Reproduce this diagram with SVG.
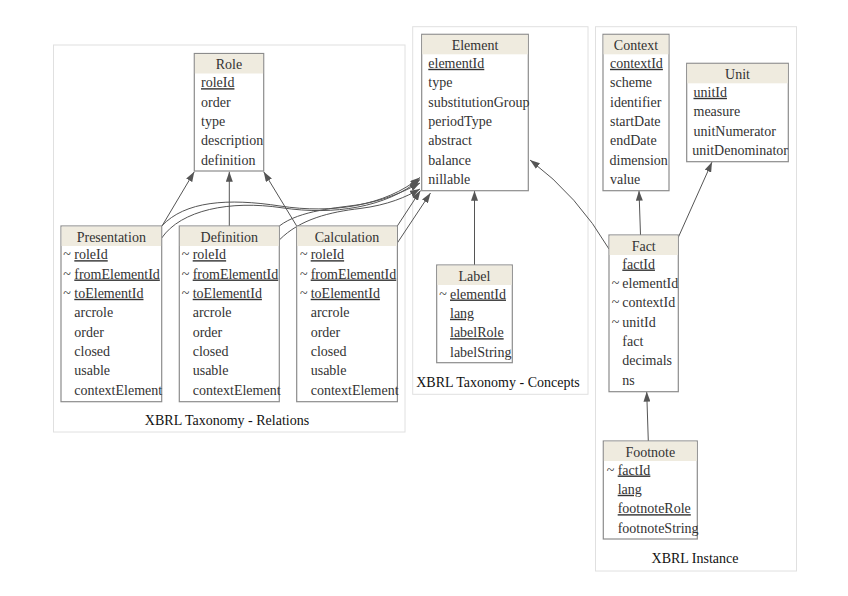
<svg xmlns="http://www.w3.org/2000/svg" width="848" height="596" viewBox="0 0 848 596">
<style>
text{font-family:"Liberation Serif","Times New Roman",serif;font-size:14px;fill:#333}
.cl{fill:#fff;stroke:#e0e0e0;stroke-width:1}
.ct{fill:#111;text-anchor:middle}
.box{fill:#fff;stroke:#8c8c8c;stroke-width:1.2}
.sh{fill:#d6d6d6}
.hd{fill:#efebdf}
.ht{text-anchor:middle}
.u{text-decoration:underline}
.e{fill:none;stroke:#555;stroke-width:1;marker-end:url(#ah)}
</style>
<defs>
<marker id="ah" markerWidth="10" markerHeight="7" refX="10" refY="3.5" orient="auto" markerUnits="userSpaceOnUse">
<path d="M0,0 L10,3.5 L0,7 z" fill="#555"/>
</marker>
</defs>
<rect width="848" height="596" fill="#fff"/>
<g id="cluster_relations">
<rect class="cl" x="53.5" y="45" width="351.5" height="387"/>
<text class="ct" x="227" y="424.5">XBRL Taxonomy - Relations</text>
</g>
<g id="cluster_concepts">
<rect class="cl" x="412.7" y="26.7" width="175.3" height="367.6"/>
<text class="ct" x="498" y="387">XBRL Taxonomy - Concepts</text>
</g>
<g id="cluster_instance">
<rect class="cl" x="595.5" y="26.7" width="201" height="544.3"/>
<text class="ct" x="695" y="562.5">XBRL Instance</text>
</g>

<g id="connectors">
<path class="e" d="M162,226 L194.3,171.7"/>
<path class="e" d="M229.3,226 L229.3,171.7"/>
<path class="e" d="M296.7,226 L263.7,171.7"/>
<path class="e" d="M161.7,226 C185,201 228,198 280,206 C332,214 385,206 420,177.5"/>
<path class="e" d="M161.7,238 C181,210 230,200 282,207.8 C334,215.5 386,207.5 420,179.5"/>
<path class="e" d="M279.3,226 C300,210 338,208 360,204.5 C386,200 405,191 420,183"/>
<path class="e" d="M279.3,240 C300,219 330,212 360,208.5 C388,205 406,197 420,189"/>
<path class="e" d="M397.3,226 L420.5,190.5"/>
<path class="e" d="M397.3,243 L430.5,193"/>
<path class="e" d="M474.5,265 L474.5,190.7"/>
<path class="e" d="M609,249 Q578,196 530,160"/>
<path class="e" d="M640.5,235 L639,190.7"/>
<path class="e" d="M678,238 L712,162"/>
<path class="e" d="M648.3,441 L646.7,391.7"/>
</g>

<g id="Role">
<rect class="box" x="194.3" y="53.5" width="69.4" height="117.5"/>
<rect class="hd" x="194.9" y="54.1" width="68.2" height="19.4"/>
<text class="ht" x="229" y="69">Role</text>
<text class="u" x="201" y="87.2">roleId</text>
<text x="201" y="106.5">order</text>
<text x="201" y="125.9">type</text>
<text x="201" y="145.2">description</text>
<text x="201" y="164.5">definition</text>
</g>

<g id="Presentation">
<rect class="box" x="61" y="226" width="100.7" height="175.7"/>
<rect class="hd" x="61.6" y="226.6" width="99.5" height="19.4"/>
<text class="ht" x="111.3" y="241.5">Presentation</text>
<text x="63.3" y="259.2">~</text><text class="u" x="74.3" y="259.2">roleId</text>
<text x="63.3" y="278.5">~</text><text class="u" x="74.3" y="278.5">fromElementId</text>
<text x="63.3" y="297.8">~</text><text class="u" x="74.3" y="297.8">toElementId</text>
<text x="74.3" y="317.2">arcrole</text>
<text x="74.3" y="336.5">order</text>
<text x="74.3" y="355.8">closed</text>
<text x="74.3" y="375.2">usable</text>
<text x="74.3" y="394.5">contextElement</text>
</g>

<g id="Definition">
<rect class="box" x="179.3" y="226" width="100" height="175.7"/>
<rect class="hd" x="179.9" y="226.6" width="98.8" height="19.4"/>
<text class="ht" x="229.3" y="241.5">Definition</text>
<text x="181.7" y="259.2">~</text><text class="u" x="192.7" y="259.2">roleId</text>
<text x="181.7" y="278.5">~</text><text class="u" x="192.7" y="278.5">fromElementId</text>
<text x="181.7" y="297.8">~</text><text class="u" x="192.7" y="297.8">toElementId</text>
<text x="192.7" y="317.2">arcrole</text>
<text x="192.7" y="336.5">order</text>
<text x="192.7" y="355.8">closed</text>
<text x="192.7" y="375.2">usable</text>
<text x="192.7" y="394.5">contextElement</text>
</g>

<g id="Calculation">
<rect class="box" x="296.7" y="226" width="100.7" height="175.7"/>
<rect class="hd" x="297.3" y="226.6" width="99.5" height="19.4"/>
<text class="ht" x="347" y="241.5">Calculation</text>
<text x="300" y="259.2">~</text><text class="u" x="310.7" y="259.2">roleId</text>
<text x="300" y="278.5">~</text><text class="u" x="310.7" y="278.5">fromElementId</text>
<text x="300" y="297.8">~</text><text class="u" x="310.7" y="297.8">toElementId</text>
<text x="310.7" y="317.2">arcrole</text>
<text x="310.7" y="336.5">order</text>
<text x="310.7" y="355.8">closed</text>
<text x="310.7" y="375.2">usable</text>
<text x="310.7" y="394.5">contextElement</text>
</g>

<g id="Element">
<rect class="box" x="421.7" y="34.3" width="106.6" height="156.4"/>
<rect class="hd" x="422.3" y="34.9" width="105.4" height="19.4"/>
<text class="ht" x="475" y="49.8">Element</text>
<text class="u" x="428.3" y="67.8">elementId</text>
<text x="428.3" y="87.1">type</text>
<text x="428.3" y="106.5">substitutionGroup</text>
<text x="428.3" y="125.8">periodType</text>
<text x="428.3" y="145.1">abstract</text>
<text x="428.3" y="164.5">balance</text>
<text x="428.3" y="183.8">nillable</text>
</g>

<g id="Label">
<rect class="box" x="436.7" y="265" width="75.6" height="97.7"/>
<rect class="hd" x="437.3" y="265.6" width="74.4" height="19.4"/>
<text class="ht" x="474.5" y="280.5">Label</text>
<text x="439.3" y="298.5">~</text><text class="u" x="450" y="298.5">elementId</text>
<text class="u" x="450" y="317.8">lang</text>
<text class="u" x="450" y="337.2">labelRole</text>
<text x="450" y="356.5">labelString</text>
</g>

<g id="Context">
<rect class="box" x="603" y="34.3" width="66" height="156.4"/>
<rect class="hd" x="603.6" y="34.9" width="64.8" height="19.4"/>
<text class="ht" x="636" y="49.8">Context</text>
<text class="u" x="610" y="67.8">contextId</text>
<text x="610" y="87.1">scheme</text>
<text x="610" y="106.5">identifier</text>
<text x="610" y="125.8">startDate</text>
<text x="610" y="145.1">endDate</text>
<text x="609.5" y="164.5">dimension</text>
<text x="610" y="183.8">value</text>
</g>

<g id="Unit">
<rect class="box" x="686.7" y="63.3" width="101.6" height="98.4"/>
<rect class="hd" x="687.3" y="63.9" width="100.4" height="19.4"/>
<text class="ht" x="737.5" y="78.8">Unit</text>
<text class="u" x="693.5" y="96.8">unitId</text>
<text x="693.5" y="116.1">measure</text>
<text x="693.5" y="135.5">unitNumerator</text>
<text x="692.3" y="154.8">unitDenominator</text>
</g>

<g id="Fact">
<rect class="box" x="609" y="235" width="69.3" height="156.7"/>
<rect class="hd" x="609.6" y="235.6" width="68.1" height="19.4"/>
<text class="ht" x="643.7" y="250.5">Fact</text>
<text class="u" x="622.3" y="268.5">factId</text>
<text x="611.7" y="287.8">~</text><text x="622.3" y="287.8">elementId</text>
<text x="611.7" y="307.2">~</text><text x="622.3" y="307.2">contextId</text>
<text x="611.7" y="326.5">~</text><text x="622.3" y="326.5">unitId</text>
<text x="622.3" y="345.8">fact</text>
<text x="622.3" y="365.2">decimals</text>
<text x="622.3" y="384.5">ns</text>
</g>

<g id="Footnote">
<rect class="box" x="603.3" y="441" width="94" height="98"/>
<rect class="hd" x="603.9" y="441.6" width="92.8" height="19.4"/>
<text class="ht" x="650.3" y="456.5">Footnote</text>
<text x="606.7" y="474.5">~</text><text class="u" x="617.7" y="474.5">factId</text>
<text class="u" x="617.7" y="493.8">lang</text>
<text class="u" x="617.7" y="513.2">footnoteRole</text>
<text x="617.7" y="532.5">footnoteString</text>
</g>
</svg>
